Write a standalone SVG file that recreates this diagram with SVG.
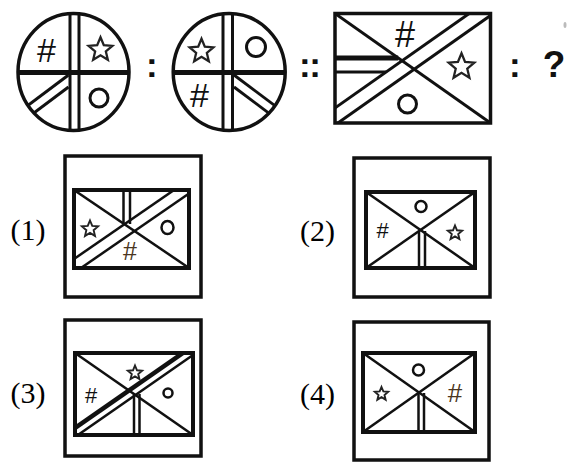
<svg xmlns="http://www.w3.org/2000/svg" width="572" height="473" viewBox="0 0 572 473">
<defs>
<style>
.o{fill:none;stroke:#111;stroke-width:3.5}
.in{fill:none;stroke:#111;stroke-width:4}
.l{stroke:#111;stroke-width:3;fill:none}
.t{stroke:#111;stroke-width:2.5;fill:none}
.thick{stroke:#111;stroke-width:5}
.st{fill:#fff;stroke:#222;stroke-width:2.3}
.sts{fill:#fff;stroke:#222;stroke-width:1.9}
.ring{fill:none;stroke:#111;stroke-width:3}
.rings{fill:none;stroke:#111;stroke-width:2.5}
.hash{font-family:"Liberation Sans",Arial,sans-serif;fill:#111;text-anchor:middle}
.lab{font-family:"Liberation Serif","Times New Roman",serif;font-size:30px;fill:#000}
.op{font-family:"Liberation Sans",Arial,sans-serif;fill:#111;font-weight:bold}
</style>
<path id="star" d="M0,-1 L0.2645,-0.3641 L0.9511,-0.309 L0.428,0.1391 L0.5878,0.809 L0,0.45 L-0.5878,0.809 L-0.428,0.1391 L-0.9511,-0.309 L-0.2645,-0.3641 Z" vector-effect="non-scaling-stroke"/>
<clipPath id="c1"><ellipse cx="73.5" cy="72" rx="55.5" ry="58.5"/></clipPath>
<clipPath id="c2"><ellipse cx="229.2" cy="72" rx="56" ry="58.5"/></clipPath>
<clipPath id="r3"><rect x="335" y="13.5" width="155.5" height="109.5"/></clipPath>
<clipPath id="k1"><rect x="74" y="190" width="115" height="78"/></clipPath>
<clipPath id="k2"><rect x="366" y="192" width="109" height="76"/></clipPath>
<clipPath id="k3"><rect x="75" y="353" width="118" height="82"/></clipPath>
<clipPath id="k4"><rect x="363" y="353" width="112" height="79"/></clipPath>
</defs>
<rect width="572" height="473" fill="#fff"/>

<g id="fig1">
<g clip-path="url(#c1)">
<line x1="70" y1="0" x2="70" y2="140" class="l"/>
<line x1="79" y1="0" x2="79" y2="140" class="l"/>
<line x1="10" y1="72.5" x2="140" y2="72.5" class="thick"/>
<line x1="68.5" y1="75" x2="10" y2="118.9" class="l"/>
<line x1="68.5" y1="87" x2="10" y2="130.9" class="l"/>
</g>
<ellipse cx="73.5" cy="72" rx="55.5" ry="58.5" class="o"/>
<text class="hash" x="46.5" y="62" font-size="34">#</text>
<use href="#star" transform="translate(100.5,49.7) scale(12.5)" class="st"/>
<circle cx="99" cy="98" r="9" class="ring"/>
</g>

<g id="fig2">
<g clip-path="url(#c2)">
<line x1="223" y1="0" x2="223" y2="140" class="l"/>
<line x1="232.5" y1="0" x2="232.5" y2="140" class="l"/>
<line x1="165" y1="72.5" x2="295" y2="72.5" class="thick"/>
<line x1="234" y1="75" x2="300" y2="124.5" class="l"/>
<line x1="234" y1="87" x2="300" y2="136.5" class="l"/>
</g>
<ellipse cx="229.2" cy="72" rx="56" ry="58.5" class="o"/>
<use href="#star" transform="translate(201.5,51.2) scale(12.5)" class="st"/>
<circle cx="256" cy="47" r="9.5" class="ring"/>
<text class="hash" x="199.5" y="107" font-size="34">#</text>
</g>

<g id="fig3">
<g clip-path="url(#r3)">
<line x1="335" y1="13.5" x2="490.5" y2="123" class="l"/>
<line x1="320" y1="118.6" x2="500" y2="-8.2" class="l"/>
<line x1="320" y1="135.6" x2="500" y2="8.8" class="l"/>
<line x1="335" y1="58" x2="398.2" y2="58" class="thick"/>
<line x1="335" y1="72" x2="386" y2="72" class="l"/>
</g>
<rect x="335" y="13.5" width="155.5" height="109.5" class="o"/>
<text class="hash" x="405" y="47" font-size="36">#</text>
<use href="#star" transform="translate(461.5,66.8) scale(13.5)" class="st"/>
<circle cx="407.5" cy="104" r="9" class="ring"/>
</g>

<g id="ops">
<text class="op" x="146.1" y="76.5" font-size="35">:</text>
<text class="op" x="299.1" y="76.5" font-size="35" letter-spacing="-1.5">::</text>
<text class="op" x="509.1" y="76.5" font-size="35">:</text>
<text class="op" x="554" y="77" font-size="37" text-anchor="middle">?</text>
<ellipse cx="565" cy="25" rx="1.5" ry="3" fill="#bbb"/>
</g>

<g id="opt1">
<text class="lab" x="10.5" y="239.5">(1)</text>
<rect x="65" y="156" width="136" height="141" class="o"/>
<g clip-path="url(#k1)">
<line x1="74" y1="190" x2="189" y2="268" class="t"/>
<line x1="64" y1="265.9" x2="200" y2="172.1" class="t"/>
<line x1="70" y1="275.6" x2="200" y2="185.9" class="t"/>
<line x1="123.5" y1="190" x2="123.5" y2="224" class="t"/>
<line x1="130" y1="190" x2="130" y2="224" class="t"/>
</g>
<rect x="74" y="190" width="115" height="78" class="in"/>
<use href="#star" transform="translate(90,229) scale(8.5)" class="sts"/>
<ellipse cx="167.5" cy="227.5" rx="6" ry="6.5" class="rings"/>
<text class="hash" x="130" y="260" font-size="25" style="fill:#4a3520">#</text>
</g>

<g id="opt2">
<text class="lab" x="300" y="241">(2)</text>
<rect x="354" y="158" width="136" height="139" class="o"/>
<g clip-path="url(#k2)">
<line x1="366" y1="192" x2="475" y2="268" class="t"/>
<line x1="366" y1="268" x2="475" y2="192" class="t"/>
<line x1="419" y1="231" x2="419" y2="268" class="t"/>
<line x1="425" y1="231" x2="425" y2="268" class="t"/>
</g>
<rect x="366" y="192" width="109" height="76" class="in"/>
<circle cx="421" cy="206.5" r="5.5" class="rings"/>
<text class="hash" x="382.5" y="238" font-size="22">#</text>
<use href="#star" transform="translate(455,233) scale(7.5)" class="sts"/>
</g>

<g id="opt3">
<text class="lab" x="10.5" y="402.5">(3)</text>
<rect x="65" y="320" width="136" height="136" class="o"/>
<g clip-path="url(#k3)">
<line x1="75" y1="353" x2="193" y2="435" class="t"/>
<line x1="65" y1="435" x2="200" y2="341.1" stroke="#111" stroke-width="4.5"/>
<line x1="65" y1="444" x2="200" y2="350.1" class="t"/>
<line x1="134" y1="394" x2="134" y2="435" class="t"/>
<line x1="139.5" y1="394" x2="139.5" y2="435" class="t"/>
</g>
<rect x="75" y="353" width="118" height="82" class="in"/>
<use href="#star" transform="translate(135,373) scale(7.5)" class="sts"/>
<circle cx="168" cy="393" r="4.5" class="rings"/>
<text class="hash" x="91" y="403" font-size="22">#</text>
</g>

<g id="opt4">
<text class="lab" x="300" y="404">(4)</text>
<rect x="354" y="322" width="135" height="138" class="o"/>
<g clip-path="url(#k4)">
<line x1="363" y1="353" x2="475" y2="432" class="t"/>
<line x1="363" y1="432" x2="475" y2="353" class="t"/>
<line x1="418.5" y1="393" x2="418.5" y2="432" class="t"/>
<line x1="424" y1="393" x2="424" y2="432" class="t"/>
</g>
<rect x="363" y="353" width="112" height="79" class="in"/>
<circle cx="418.5" cy="370" r="5.5" class="rings"/>
<use href="#star" transform="translate(381.5,394) scale(7)" class="sts"/>
<text class="hash" x="455" y="402" font-size="26" style="fill:#4a3520">#</text>
</g>
</svg>
